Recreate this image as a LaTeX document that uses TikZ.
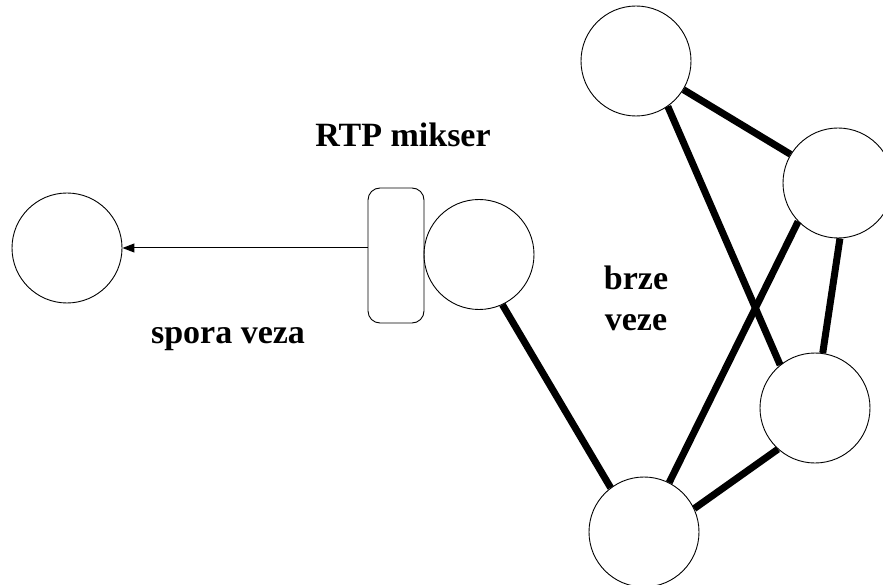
\documentclass[tikz,border=0pt]{standalone}
\usepackage{fontspec}
\setmainfont{Liberation Serif}
\usetikzlibrary{arrows.meta}
\begin{document}
\begin{tikzpicture}[x=1pt,y=-1pt,
  peer/.style={circle,draw,line width=0.9pt,minimum size=110pt,inner sep=0pt},
  mixbox/.style={draw,line width=0.9pt,rounded corners=12pt,minimum width=56pt,minimum height=135pt,inner sep=0pt},
  fast/.style={line width=7pt},
  slow/.style={line width=1pt,-{Triangle[length=12pt,width=9pt]}},
  lbl/.style={font=\fontsize{34pt}{40pt}\selectfont\bfseries,inner sep=0pt,align=center}]
\useasboundingbox (0,0) rectangle (883,585);
\node[peer] (l) at (67,248) {};
\node[mixbox] (mx) at (396,255.5) {};
\node[peer] (m) at (479,254.5) {};
\node[peer] (t) at (636,61) {};
\node[peer] (ur) at (838,183) {};
\node[peer] (lr) at (815,408) {};
\node[peer] (b) at (644,532) {};
\draw[slow] (mx.west |- l.east) -- (l.east);
\draw[fast] (t) -- (ur);
\draw[fast] (t.-55) -- (lr.129);
\draw[fast] (ur.224) -- (b.63);
\draw[fast] (ur.-88) -- (lr.82);
\draw[fast] (lr.228) -- (b.25);
\draw[fast] (m.-65) -- (b.127);
\node[lbl,anchor=base] (rtp) at (403,147) {RTP mikser};
\node[lbl,anchor=base] (spora) at (228,343) {spora veza};
\node[lbl,anchor=base] (brze) at (636,290) {brze};
\node[lbl,anchor=base] (veze) at (636,330) {veze};
\end{tikzpicture}
\end{document}
